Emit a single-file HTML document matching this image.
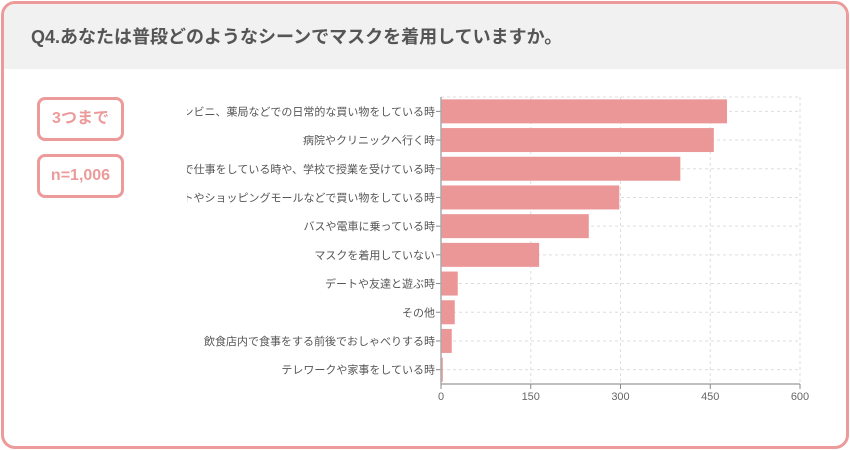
<!DOCTYPE html>
<html><head><meta charset="utf-8"><style>
body{margin:0;width:850px;height:450px;background:#fff;font-family:"Liberation Sans","Noto Sans CJK JP",sans-serif;overflow:hidden}
.card{position:absolute;left:1px;top:1px;width:842px;height:442px;border:3px solid #ec9a9a;border-radius:14px;overflow:hidden;background:#fff}
.hdr{position:absolute;left:0;top:0;width:100%;height:65px;background:#f1f1f1}
.title{position:absolute;left:27px;top:19px;font-size:18px;font-weight:bold;color:#555}
.tag{position:absolute;left:33px;width:81px;height:38px;border:3px solid #ec9a9a;border-radius:8px;color:#ec9a9a;font-weight:bold;font-size:16px;line-height:38px;text-align:center}
</style></head><body>
<div class="card">
<div class="hdr"><div class="title">Q4.あなたは普段どのようなシーンでマスクを着用していますか。</div></div>
<div class="tag" style="top:93px">3つまで</div>
<div class="tag" style="top:150px">n=1,006</div>
</div>
<svg id="chart" width="850" height="450" style="position:absolute;left:0;top:0">
<defs><clipPath id="lc"><rect x="187" y="80" width="260" height="320"/></clipPath></defs>
<g id="grid"></g><g id="bars"></g><g id="labels" clip-path="url(#lc)"></g><g id="axis"></g>
</svg>
<script>
const categories=["コンビニ、薬局などでの日常的な買い物をしている時","病院やクリニックへ行く時","職場で仕事をしている時や、学校で授業を受けている時","デパートやショッピングモールなどで買い物をしている時","バスや電車に乗っている時","マスクを着用していない","デートや友達と遊ぶ時","その他","飲食店内で食事をする前後でおしゃべりする時","テレワークや家事をしている時"];
const values=[478,456,400,298,247,164,28,23,18,3];
const ticks=[0,150,300,450,600];
const NS="http://www.w3.org/2000/svg";
const x0=441,x1=800,yTop=97,yBot=384,xmax=600;
const xs=v=>x0+(x1-x0)*v/xmax;
const band=(yBot-yTop)/categories.length;
const yc=i=>yTop+band*(i+0.5);
function mk(t,a,p){const e=document.createElementNS(NS,t);for(const k in a)e.setAttribute(k,a[k]);document.getElementById(p).appendChild(e);return e;}
ticks.forEach(t=>{if(t>0){const l=mk("line",{x1:xs(t),x2:xs(t),y1:yTop,y2:yBot,stroke:"#ddd","stroke-dasharray":"3,3"},"grid");

}});
mk("line",{x1:x0,x2:x1,y1:yTop,y2:yTop,stroke:"#ddd","stroke-dasharray":"3,3"},"grid");
categories.forEach((c,i)=>{const g=mk("line",{x1:x0,x2:x1,y1:yc(i),y2:yc(i),stroke:"#ddd","stroke-dasharray":"3,3"},"grid");


const r=mk("rect",{x:x0,y:yc(i)-12,width:xs(values[i])-x0,height:24,fill:"#ec9797"},"bars");


const t=mk("text",{x:435,y:yc(i)+4,"text-anchor":"end","font-size":"11",fill:"#555"},"labels");t.textContent=c;


mk("line",{x1:436,x2:441,y1:yc(i),y2:yc(i),stroke:"#888"},"axis");});
const ya=mk("line",{x1:x0,x2:x0,y1:yTop,y2:yBot,stroke:"#aaa","stroke-width":1.5},"axis");


const xa=mk("line",{x1:x0,x2:x1,y1:yBot,y2:yBot,stroke:"#aaa","stroke-width":1.5},"axis");


ticks.forEach(t=>{mk("line",{x1:xs(t),x2:xs(t),y1:yBot,y2:yBot+5,stroke:"#888"},"axis");
const tt=mk("text",{x:xs(t),y:yBot+16,"text-anchor":"middle","font-size":"11",fill:"#666"},"axis");tt.textContent=t;

});
</script>
</body></html>
